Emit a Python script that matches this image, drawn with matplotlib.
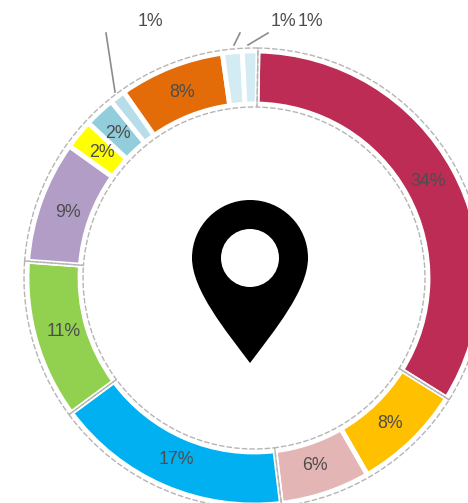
"""Doughnut chart with a location pin in the hole."""

import matplotlib
matplotlib.use("Agg")
import matplotlib.pyplot as plt
from matplotlib.patches import PathPatch
from matplotlib.path import Path

W, H = 468, 503
CX, CY = 254, H - 278
R_OUT, R_IN = 230, 171
START = 1.0

values = [33.6, 7.8, 6.4, 16.8, 11.3, 8.7, 2.1, 2.2, 1.1, 7.5, 1.4, 1.1]
colors = ["#BC2C54", "#FFC000", "#E4B5B5", "#00B0F0", "#92D050", "#B29DC6",
          "#FFFF00", "#92CDDC", "#B7DEE8", "#E36C09", "#D3EBF2", "#D3EBF2"]
labels = ["34%", "8%", "6%", "17%", "11%", "9%", "2%", "2%", "1%", "8%", "1%", "1%"]
label_x = [428, 390, 315, 176, 64, 68, 102, 118, 150, 182, 283, 310]
label_y = [181, 423, 466, 460, 332, 212, 152, 133, 21, 92, 21, 21]

# slices that share one dashed outline in the reference
outline_groups = [[0], [1, 2], [3], [4], [5, 6, 7, 8, 9, 10, 11]]

leaders = [((106, 33), (115, 92)), ((240, 33), (234, 45)), ((268, 33), (248, 45))]

plt.rcParams["font.family"] = ["Liberation Sans", "DejaVu Sans"]

fig = plt.figure(figsize=(W / 100, H / 100), dpi=100)
ax = fig.add_axes([0, 0, 1, 1])

ring = {"center": (CX, CY), "startangle": 90 - START, "counterclock": False, "frame": True}

ax.pie(values, colors=colors, radius=R_OUT - 3,
       wedgeprops={"width": R_OUT - R_IN - 6, "edgecolor": "white", "linewidth": 3.5}, **ring)

# dashed selection outline goes over the white gaps
outline_sizes = [sum(values[i] for i in g) for g in outline_groups]
wedges, _ = ax.pie(outline_sizes, colors=["none"] * len(outline_sizes), radius=R_OUT,
                   wedgeprops={"width": R_OUT - R_IN, "edgecolor": "#B5B5B5", "linewidth": 1.0,
                               "linestyle": (0, (4, 1.5))}, **ring)
for w in wedges:
    w.set_zorder(2)

for (x0, y0), (x1, y1) in leaders:
    ax.plot([x0, x1], [H - y0, H - y1], color="#8C8C8C", linewidth=1.2, zorder=3)

for txt, x, y in zip(labels, label_x, label_y):
    ax.text(x, H - y, txt, ha="center", va="center", fontsize=12.8, color="#4D4D4D", zorder=4)

# pin icon, outer outline plus the round hole
px, py, pr = 250, H - 258, 58
hole = 29
k = 0.5523
verts = [
    (px, H - 363),
    (px - 24, H - 331), (px - pr, H - 290), (px - pr, py),
    (px - pr, py + k * pr), (px - k * pr, py + pr), (px, py + pr),
    (px + k * pr, py + pr), (px + pr, py + k * pr), (px + pr, py),
    (px + pr, H - 290), (px + 24, H - 331), (px, H - 363),
    (px, py + hole),
    (px - k * hole, py + hole), (px - hole, py + k * hole), (px - hole, py),
    (px - hole, py - k * hole), (px - k * hole, py - hole), (px, py - hole),
    (px + k * hole, py - hole), (px + hole, py - k * hole), (px + hole, py),
    (px + hole, py + k * hole), (px + k * hole, py + hole), (px, py + hole),
]
codes = [Path.MOVETO] + [Path.CURVE4] * 12 + [Path.MOVETO] + [Path.CURVE4] * 12
ax.add_patch(PathPatch(Path(verts, codes), facecolor="black", edgecolor="none", zorder=5))

ax.set_xlim(0, W)
ax.set_ylim(0, H)
ax.set_aspect("equal")
ax.axis("off")

fig.savefig("out.png", dpi=100)
